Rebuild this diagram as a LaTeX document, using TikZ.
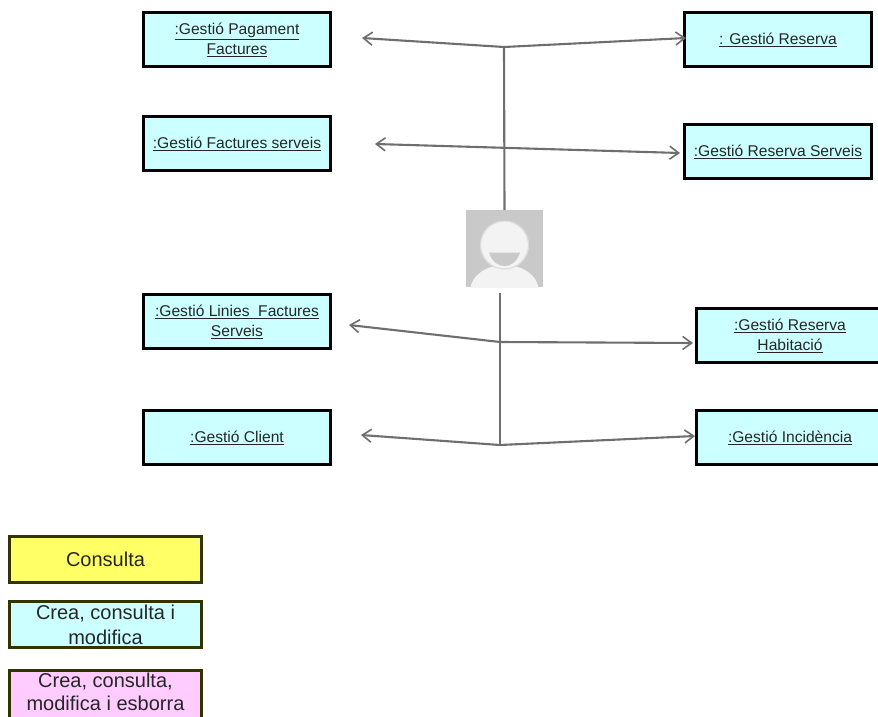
\documentclass[tikz,border=0pt]{standalone}
\usepackage{fontspec}
\usetikzlibrary{arrows.meta}
\setmainfont{Liberation Sans}
\definecolor{boxcyan}{HTML}{CCFFFF}
\definecolor{boxyellow}{HTML}{FFFF66}
\definecolor{boxpink}{HTML}{FFCCFF}
\definecolor{boxolive}{HTML}{333300}
\definecolor{linegray}{HTML}{6E6E6E}
\definecolor{actorbg}{HTML}{C9C9C9}
\definecolor{actorfg}{HTML}{F3F3F3}
\newcommand{\gestio}[1]{\underline{#1}}
\begin{document}
\begin{tikzpicture}[x=1pt,y=-1pt,
                      fl/.tip={Straight Barb[length=9pt,width=13pt,line width=1.6pt]},
                      gestbox/.style={draw=black,line width=2.6pt,fill=boxcyan,minimum width=187pt,minimum height=54pt,
                                      align=center,inner sep=0pt,font=\fontsize{15.6}{20}\selectfont,text=black!85},
                      llegbox/.style={draw=boxolive,line width=3pt,minimum width=192pt,minimum height=46pt,
                                      align=center,inner sep=0pt,font=\fontsize{20}{25}\selectfont,text=black!85},
                      conn/.style={draw=linegray,line width=2.1pt},
                      fletxa/.style={conn,-fl}]
   \useasboundingbox (0,0) rectangle (878,717);

   \node(gpag)[gestbox] at (237,39.5) {\gestio{:Gestió Pagament}\\\gestio{Factures}};
   \node(gfac)[gestbox] at (237,143.5) {\gestio{:Gestió Factures serveis}};
   \node(glin)[gestbox] at (237,321.5) {\gestio{:Gestió Linies\ \ Factures}\\\gestio{Serveis}};
   \node(gcli)[gestbox] at (237,437.5) {\gestio{:Gestió Client}};
   \node(gres)[gestbox] at (778,39.5) {\gestio{: Gestió Reserva}};
   \node(gser)[gestbox] at (778,151.5) {\gestio{:Gestió Reserva Serveis}};
   \node(ghab)[gestbox] at (790,335.5) {\gestio{:Gestió Reserva}\\\gestio{Habitació}};
   \node(ginc)[gestbox] at (790,437.5) {\gestio{:Gestió Incidència}};

   \node(actor)[fill=actorbg,minimum size=77pt,inner sep=0pt,path picture={
        \fill[actorfg] (0,41.5) ellipse (34pt and 25pt);
        \fill[actorfg,draw=actorbg!55!actorfg,line width=1.2pt] (0,-3.5) circle (24pt);
        \fill[actorbg] (-15.5,4.2) -- (15.5,4.2) .. controls (12,14) and (6,17.5) .. (0,17.5)
             .. controls (-6,17.5) and (-12,14) .. cycle;
        }] at (504.5,248.5) {};

   \coordinate(jdalt) at (504,47);
   \coordinate(jmig) at (500,342);
   \coordinate(jbaix) at (500,445);
   \coordinate(inici) at (500,293);
   \coordinate(fpag) at (362,38);
   \coordinate(ffac) at (375,144);
   \coordinate(fres) at (686,38);
   \coordinate(fser) at (680,153);
   \coordinate(flin) at (349,325);
   \coordinate(fhab) at (693,343);
   \coordinate(fcli) at (361,435);
   \coordinate(finc) at (695,436);

   \draw[conn] (actor.north) -- (jdalt);
   \draw[conn] (inici) -- (jmig) -- (jbaix);
   \draw[fletxa] (jdalt) -- (fpag);
   \draw[fletxa] (jdalt) -- (fres);
   \draw[conn,fl-fl] (ffac) -- (fser);
   \draw[fletxa] (jmig) -- (flin);
   \draw[fletxa] (jmig) -- (fhab);
   \draw[fletxa] (jbaix) -- (fcli);
   \draw[fletxa] (jbaix) -- (finc);

   \node(consulta)[llegbox,fill=boxyellow] at (105.5,559.5) {Consulta};
   \node(crea)[llegbox,fill=boxcyan] at (105.5,624.5) {Crea, consulta i\\modifica};
   \node(esborra)[llegbox,fill=boxpink,minimum height=50pt,font=\fontsize{20}{24}\selectfont] at (105.5,695) {Crea, consulta,\\[-1pt]modifica i esborra\rule[-6pt]{0pt}{6pt}};
\end{tikzpicture}
\end{document}
